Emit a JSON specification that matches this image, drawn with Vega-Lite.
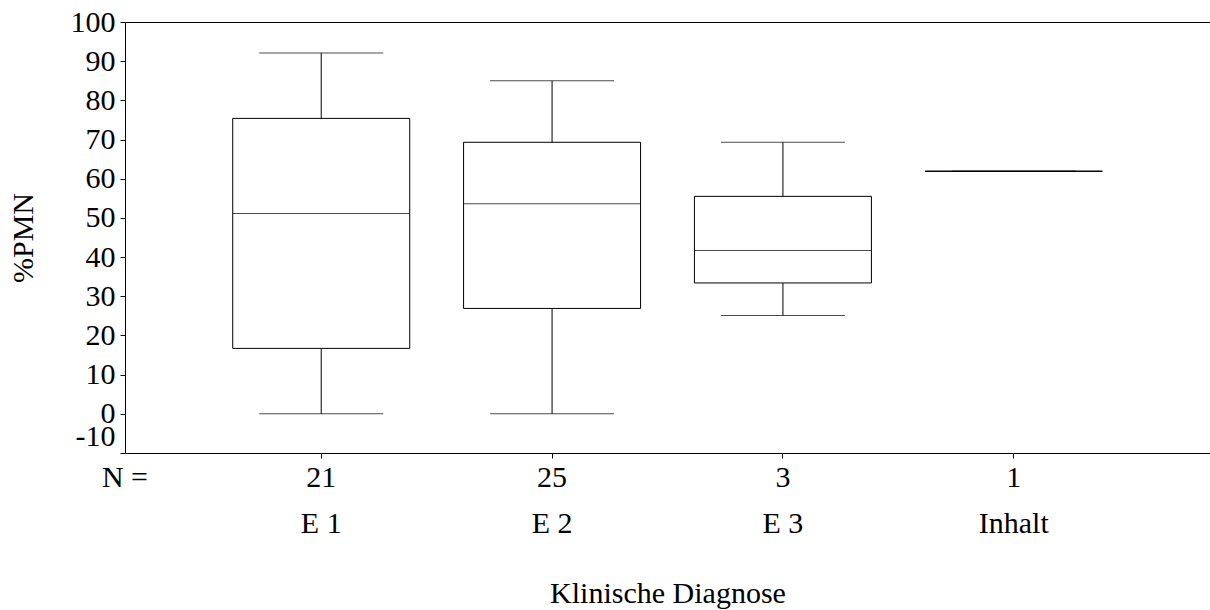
{
  "$schema": "https://vega.github.io/schema/vega-lite/v6.json",
  "width": 1085,
  "height": 431,
  "autosize": {"type": "none"},
  "padding": {"left": 125, "top": 22, "right": 0, "bottom": 157},
  "background": "white",
  "config": {
    "view": {"stroke": null},
    "font": "Liberation Serif",
    "axis": {
      "domainColor": "black",
      "domainWidth": 1,
      "tickColor": "black",
      "tickWidth": 1,
      "tickSize": 5,
      "labelColor": "black",
      "titleColor": "black",
      "labelFont": "Liberation Serif",
      "titleFont": "Liberation Serif",
      "labelFontSize": 30,
      "titleFontSize": 30,
      "titleFontWeight": "normal",
      "labelOverlap": false,
      "grid": false
    }
  },
  "layer": [
    {
      "data": {
        "values": [
          {"diagnose": "E 1", "n": 21, "lower": 0, "q1": 16.7, "median": 51.1, "q3": 75.4, "upper": 92.1},
          {"diagnose": "E 2", "n": 25, "lower": 0, "q1": 26.9, "median": 53.6, "q3": 69.3, "upper": 85.0},
          {"diagnose": "E 3", "n": 3, "lower": 25.1, "q1": 33.4, "median": 41.7, "q3": 55.5, "upper": 69.3},
          {"diagnose": "Inhalt", "n": 1, "lower": 61.9, "q1": 61.9, "median": 61.9, "q3": 61.9, "upper": 61.9}
        ]
      },
      "layer": [
        {
          "mark": {"type": "rule", "color": "black", "strokeWidth": 1},
          "encoding": {
            "x": {
              "field": "diagnose",
              "type": "nominal",
              "sort": null,
              "scale": {"type": "band", "paddingInner": 0, "paddingOuter": 0.35},
              "axis": {"orient": "bottom", "labelAngle": 0, "labelPadding": 50, "titlePadding": 40, "title": "Klinische Diagnose"}
            },
            "y": {
              "field": "lower",
              "type": "quantitative",
              "title": "%PMN",
              "scale": {"domain": [-10, 100], "nice": false, "zero": false},
              "axis": {
                "values": [-10, 0, 10, 20, 30, 40, 50, 60, 70, 80, 90, 100],
                "tickCount": 20,
                "labelExpr": "replace(datum.label, '\u2212', '-')",
                "labelPadding": 5,
                "labelOverlap": false,
                "titlePadding": 32,
                "labelBaseline": {"condition": {"test": "datum.value === -10", "value": "alphabetic"}, "value": "middle"},
                "labelOffset": {"condition": {"test": "datum.value === -10", "value": -8}, "value": 0}
              }
            },
            "y2": {"field": "upper"}
          }
        },
        {
          "mark": {"type": "bar", "fill": "white", "stroke": "black", "strokeWidth": 1, "width": 177},
          "encoding": {
            "x": {"field": "diagnose", "type": "nominal", "sort": null, "axis": null},
            "y": {"field": "q1", "type": "quantitative", "title": "%PMN"},
            "y2": {"field": "q3"}
          }
        },
        {
          "mark": {"type": "tick", "color": "black", "thickness": 1, "size": 177},
          "encoding": {
            "x": {"field": "diagnose", "type": "nominal", "sort": null, "axis": null},
            "y": {"field": "median", "type": "quantitative", "title": "%PMN"}
          }
        },
        {
          "mark": {"type": "tick", "color": "black", "thickness": 1, "size": 124},
          "encoding": {
            "x": {"field": "diagnose", "type": "nominal", "sort": null, "axis": null},
            "y": {"field": "lower", "type": "quantitative", "title": "%PMN"}
          }
        },
        {
          "mark": {"type": "tick", "color": "black", "thickness": 1, "size": 124},
          "encoding": {
            "x": {
              "field": "diagnose",
              "type": "nominal",
              "sort": null,
              "axis": {"orient": "top", "labels": false, "ticks": false, "title": null, "domain": true}
            },
            "y": {"field": "upper", "type": "quantitative", "title": "%PMN"}
          }
        },
        {
          "mark": {"type": "text", "color": "black", "fontSize": 30, "font": "Liberation Serif", "baseline": "top", "align": "center", "dy": 10},
          "encoding": {
            "x": {"field": "diagnose", "type": "nominal", "sort": null, "axis": null},
            "y": {"datum": -10, "type": "quantitative"},
            "text": {"field": "n", "type": "quantitative"}
          }
        }
      ],
      "resolve": {"axis": {"x": "independent"}}
    },
    {
      "data": {"values": [{"t": "N ="}]},
      "mark": {"type": "text", "color": "black", "fontSize": 30, "font": "Liberation Serif", "baseline": "top", "align": "center", "dy": 10},
      "encoding": {
        "x": {"datum": 0, "type": "quantitative", "scale": {"domain": [0, 1]}, "axis": null},
        "y": {"datum": -10, "type": "quantitative"},
        "text": {"field": "t", "type": "nominal"}
      }
    }
  ],
  "resolve": {"scale": {"x": "independent"}}
}
